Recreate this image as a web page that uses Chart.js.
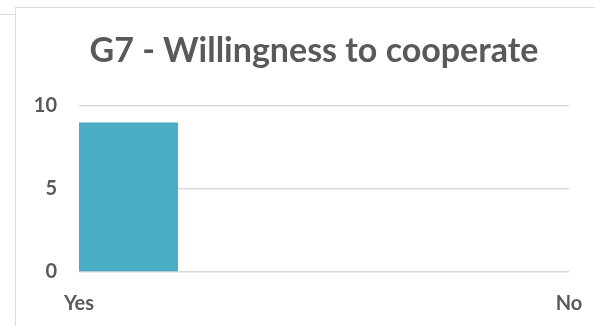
<!DOCTYPE html>
<html>
<head>
<meta charset="utf-8">
<script src="https://cdn.jsdelivr.net/npm/chart.js@4.4.0/dist/chart.umd.min.js"></script>
<style>
  html, body { margin: 0; padding: 0; background: #fff; overflow: hidden; }
  #wrap { position: relative; width: 595px; height: 326px; overflow: hidden; }
  #chartBox { position: absolute; left: 0; top: 0; width: 595px; height: 326px; }
  /* bordas do quadro do gráfico (como no Excel) */
  #frame { position: absolute; left: 15px; top: 7px; width: 600px; height: 340px;
           border-top: 1.5px solid #dcdcdc; border-left: 1.5px solid #dcdcdc; }
  #stub { position: absolute; left: 0; top: 14px; width: 15px; border-top: 1.5px solid #dcdcdc; }
  #titulo { position: absolute; left: 14px; width: 600px; top: 32px; text-align: center;
            font: bold 34px/34px Lato, sans-serif; color: #595959; white-space: nowrap; }
</style>
</head>
<body>
<div id="wrap">
  <div id="frame"></div>
  <div id="stub"></div>
  <div id="chartBox"><canvas id="grafico"></canvas></div>
  <div id="titulo">G7 - Willingness to cooperate</div>
</div>
<script>
// dados do gráfico
const categorias = ['Yes', 'No'];
const respostas = [9, 0];
const ticksY = [0, 5, 10];

const cinza = '#595959';
const fonteEixo = { family: 'Lato', size: 20, weight: 'bold' };

const ctx = document.getElementById('grafico');

new Chart(ctx, {
  type: 'bar',
  data: {
    labels: categorias,
    datasets: [{
      data: respostas,
      backgroundColor: '#4bacc6',
      borderWidth: 0,
      categoryPercentage: 0.404, // barra começa no rótulo "Yes"
      barPercentage: 1,
      clip: 0
    }]
  },
  options: {
    responsive: true,
    maintainAspectRatio: false,
    animation: false,
    layout: { padding: { top: 106, left: 33, right: 0, bottom: 10 } },
    plugins: {
      legend: { display: false },
      tooltip: { enabled: false },
      title: { display: false }
    },
    scales: {
      x: {
        offset: false,
        grid: { display: false, drawTicks: false },
        border: { display: false },
        ticks: { color: cinza, font: fonteEixo, padding: 20, maxRotation: 0 },
        afterFit: s => { s.height = 44; s.paddingRight = 26; }
      },
      y: {
        min: ticksY[0],
        max: ticksY[ticksY.length - 1],
        afterBuildTicks: s => { s.ticks = ticksY.map(v => ({ value: v })); },
        grid: { color: '#d9d9d9', lineWidth: 1.5, drawTicks: false },
        border: { display: false },
        ticks: { color: cinza, font: fonteEixo, padding: 22 },
        afterFit: s => { s.width = 46; }
      }
    }
  }
});
</script>
</body>
</html>
